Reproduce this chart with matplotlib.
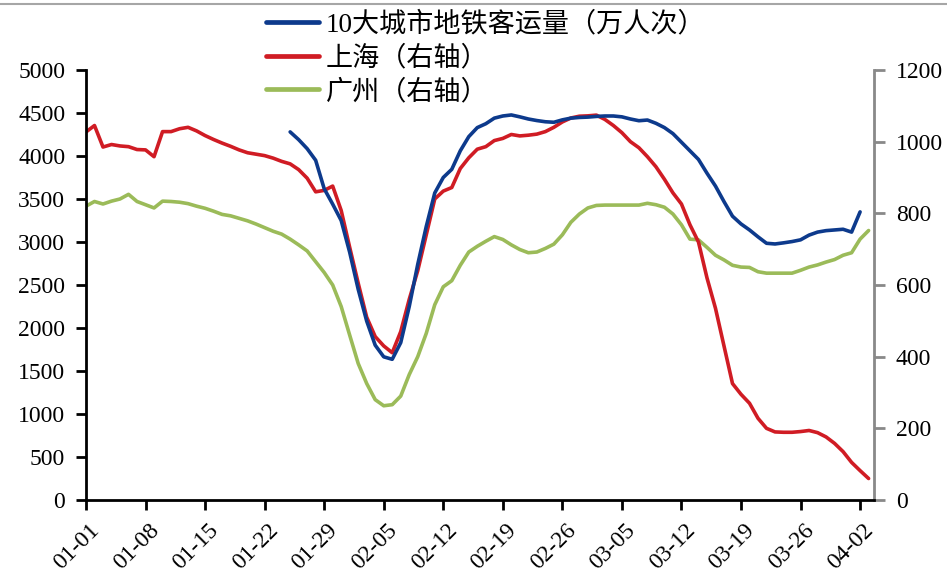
import numpy as np
import matplotlib
matplotlib.use('Agg')
import matplotlib.pyplot as plt
import matplotlib.transforms as mtransforms
from matplotlib.lines import Line2D

plt.rcParams['font.family'] = ['Liberation Serif', 'Noto Sans CJK SC']

# daily series, 2022-01-01 .. 2022-04-03 (day index 0..92)
tick_labels = ['01-01', '01-08', '01-15', '01-22', '01-29', '02-05', '02-12',
               '02-19', '02-26', '03-05', '03-12', '03-19', '03-26', '04-02']

# 上海 (right axis), days 0..92
shanghai = [1027, 1045, 985, 992, 988, 986, 978, 977, 958, 1028,
            1028, 1036, 1040, 1030, 1017, 1006, 996, 987, 977, 969,
            965, 961, 954, 945, 938, 922, 898, 860, 864, 876,
            808, 705, 605, 510, 456, 430, 411, 470, 560, 640,
            740, 840, 862, 872, 925, 955, 979, 986, 1003, 1009,
            1020, 1016, 1018, 1021, 1028, 1040, 1055, 1066, 1071, 1072,
            1074, 1062, 1045, 1025, 1000, 983, 958, 930, 895, 857,
            826, 768, 720, 620, 535, 430, 325, 295, 270, 228,
            200, 190, 189, 189, 191, 194, 188, 176, 158, 135,
            105, 82, 60]

# 广州 (right axis), days 0..92
guangzhou = [820, 833, 826, 834, 840, 853, 833, 824, 815, 834,
             833, 831, 827, 820, 814, 806, 797, 793, 786, 779,
             770, 760, 750, 742, 728, 712, 695, 665, 635, 600,
             540, 460, 381, 325, 280, 263, 266, 290, 350, 400,
             465, 545, 595, 612, 655, 692, 708, 722, 735, 727,
             712, 699, 690, 692, 702, 714, 740, 775, 798, 815,
             822, 823, 823, 823, 823, 823, 828, 824, 817, 798,
             768, 728, 726, 705, 683, 670, 655, 650, 649, 637,
             633, 633, 633, 633, 641, 650, 656, 664, 671, 683,
             690, 728, 752]

# 10 cities total (left axis), days 24..91
metro_start = 24
metro10 = [4280, 4190, 4085, 3950, 3620, 3440, 3250, 2880, 2450, 2080,
           1800, 1665, 1636, 1830, 2250, 2740, 3180, 3570, 3750, 3845,
           4060, 4225, 4330, 4375, 4440, 4465, 4477, 4455, 4430, 4412,
           4398, 4392, 4420, 4440, 4448, 4452, 4460, 4465, 4465, 4455,
           4430, 4410, 4418, 4380, 4330, 4260, 4160, 4060, 3960, 3800,
           3650, 3470, 3300, 3210, 3140, 3060, 2985, 2977, 2990, 3005,
           3025, 3080, 3115, 3132, 3140, 3148, 3115, 3350]

blue = '#0D3A8C'
red = '#D01C24'
green = '#9BBB59'
fs = 17

fig = plt.figure(figsize=(9.47, 5.68), dpi=100)
ax = fig.add_axes([0.0908, 0.1197, 0.8318, 0.7571])
ax2 = ax.twinx()

days = np.arange(len(shanghai))
metro_days = np.arange(metro_start, metro_start + len(metro10))

ax2.plot(days, guangzhou, color=green, lw=2.6, solid_capstyle='round')
ax2.plot(days, shanghai, color=red, lw=2.6, solid_capstyle='round')
ax.plot(metro_days, metro10, color=blue, lw=2.6, solid_capstyle='round')
ax.set_zorder(ax2.get_zorder() + 1)
ax.patch.set_visible(False)

ax.set_xlim(0, 92.6)
ax.set_ylim(0, 5000)
ax2.set_ylim(0, 1200)
ax.set_yticks(np.arange(0, 5001, 500))
ax2.set_yticks(np.arange(0, 1201, 200))
ax.set_xticks(np.arange(0, 7 * len(tick_labels), 7))
ax.set_xticklabels(tick_labels, rotation=45, ha='right', rotation_mode='anchor')

for a in (ax, ax2):
    a.spines['top'].set_visible(False)
ax.spines['right'].set_visible(False)
ax2.spines['left'].set_visible(False)
ax2.spines['bottom'].set_visible(False)
ax2.spines['right'].set_color('#898989')
ax2.spines['right'].set_linewidth(2)
ax.spines['left'].set_linewidth(2)
ax.spines['bottom'].set_linewidth(2)

ax.tick_params(axis='both', direction='out', length=7, width=2, labelsize=fs, colors='black')
ax.tick_params(axis='y', pad=8)
ax.tick_params(axis='x', pad=7)
ax2.tick_params(axis='y', direction='out', length=8, width=2, labelsize=fs,
                color='#898989', labelcolor='black', pad=8)

# nudge the slanted date labels a little to the right of their ticks
shift = mtransforms.ScaledTranslation(0.03, 0, fig.dpi_scale_trans)
for lbl in ax.get_xticklabels():
    lbl.set_transform(lbl.get_transform() + shift)

handles = [Line2D([], [], color=blue, lw=3.4, solid_capstyle='round'),
           Line2D([], [], color=red, lw=3.4, solid_capstyle='round'),
           Line2D([], [], color=green, lw=3.4, solid_capstyle='round')]
labels = ['10大城市地铁客运量（万人次）', '上海（右轴）', '广州（右轴）']
fig.legend(handles, labels, loc='upper left', bbox_to_anchor=(0.281, 0.98),
           frameon=False, fontsize=19.5, handlelength=1.95, handletextpad=0.25,
           labelspacing=0.3, borderpad=0, borderaxespad=0)

# thin grey rule along the top edge
fig.add_artist(Line2D([0, 1], [0.993, 0.993], transform=fig.transFigure,
                      color='#A6A6A6', lw=1.5))

fig.savefig('out.png', dpi=100)
